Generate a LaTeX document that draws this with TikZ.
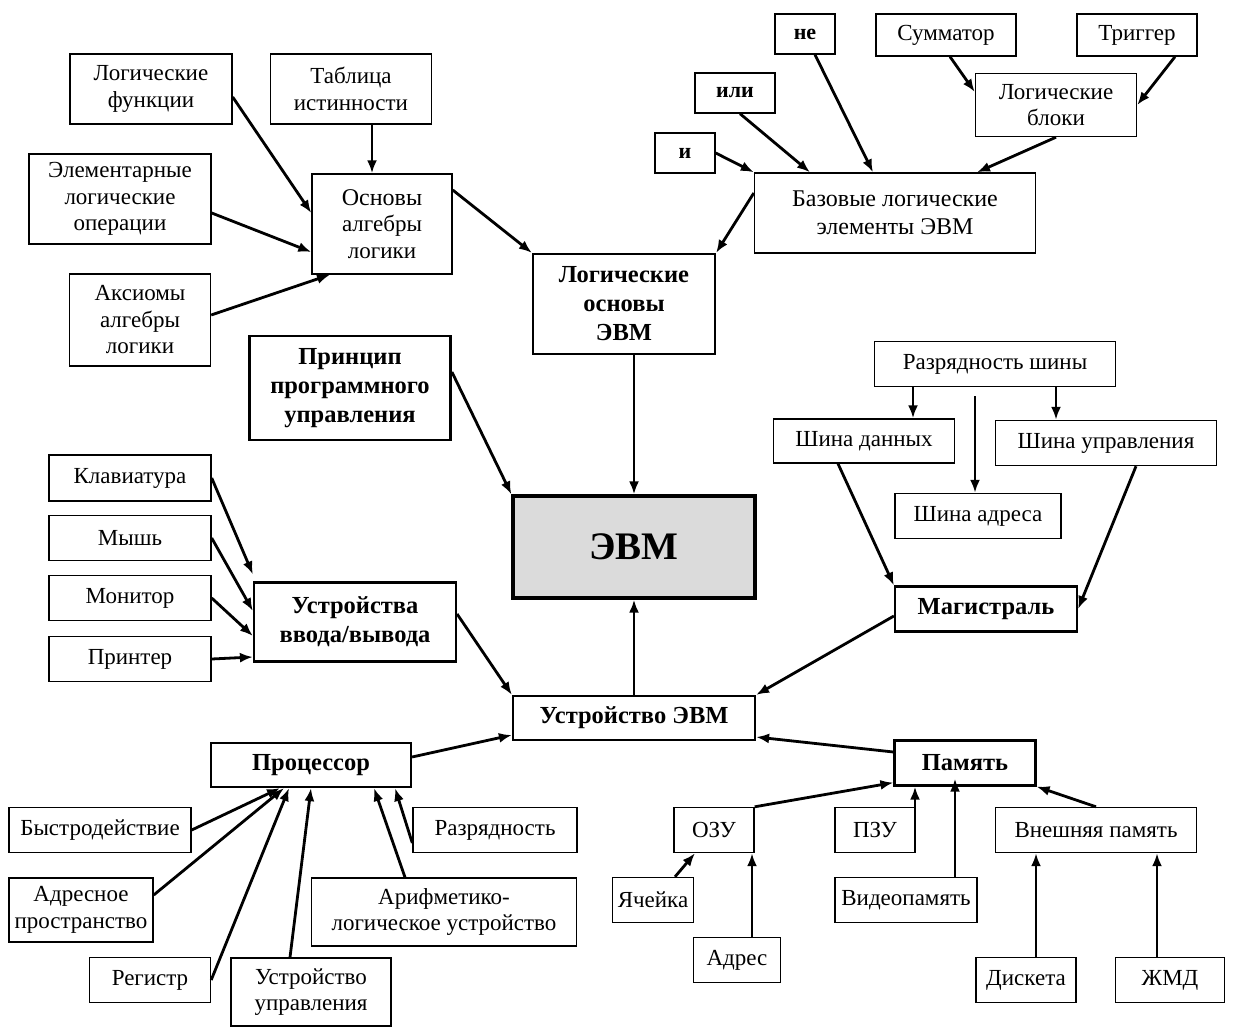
\documentclass[tikz,border=0pt]{standalone}
\usepackage{fontspec}
\setmainfont{Liberation Serif}
\usetikzlibrary{arrows.meta}
\tikzset{
  box/.style={draw, line width=1.4pt, align=center, inner sep=0pt,
    font=\fontsize{23}{26.5}\selectfont},
  bbox/.style={box, line width=2.2pt, font=\fontsize{24.5}{29}\selectfont\bfseries},
  arr/.style={-{Latex[length=13pt,width=10pt]}, line width=2.8pt},
}
\begin{document}
\begin{tikzpicture}[x=1pt,y=-1pt]
    \useasboundingbox (0,0) rectangle (1233,1027);
    % logic part
    \node[box, minimum width=162, minimum height=70] (lf) at (151,89) {Логические\\функции};
    \node[box, minimum width=161, minimum height=70] (tab) at (351,89) {Таблица\\истинности};
    \node[box, minimum width=182, minimum height=90] (elem) at (120,199) {Элементарные\\логические\\операции};
    \node[box, minimum width=140, minimum height=100] (osn) at (382,224) {\fontsize{24}{28}\selectfont Основы\\алгебры\\логики};
    \node[box, minimum width=141, minimum height=92] (aks) at (140,320) {Аксиомы\\алгебры\\логики};
    \node[bbox, line width=2.8pt, minimum width=201, minimum height=104] (pr) at (350,388) {Принцип\\программного\\управления};
    \node[bbox, minimum width=182, minimum height=100] (log) at (624,304) {Логические\\основы\\ЭВМ};
    \node[box, font=\fontsize{22}{26}\selectfont\bfseries, minimum width=60, minimum height=40] (i) at (685,153) {и};
    \node[box, font=\fontsize{22}{26}\selectfont\bfseries, minimum width=80, minimum height=40] (ili) at (735,93) {или};
    \node[box, font=\fontsize{22}{26}\selectfont\bfseries, minimum width=60, minimum height=40] (ne) at (805,34) {не};
    \node[box, minimum width=140, minimum height=42] (sum) at (946,35) {Сумматор};
    \node[box, minimum width=120, minimum height=42] (trig) at (1137,35) {Триггер};
    \node[box, minimum width=161, minimum height=63] (lb) at (1056,105) {Логические\\блоки};
    \node[box, font=\fontsize{24}{28}\selectfont, minimum width=281, minimum height=80] (baz) at (895,213) {Базовые логические\\элементы ЭВМ};
    % center
    \node[bbox, line width=3.2pt, fill=black!14, font=\fontsize{39}{44}\selectfont\bfseries, minimum width=242, minimum height=102] (evm) at (634,547) {ЭВМ};
    % bus
    \node[box, minimum width=241, minimum height=45] (rs) at (995,364) {Разрядность шины};
    \node[box, minimum width=181, minimum height=44] (sd) at (864,441) {Шина данных};
    \node[box, minimum width=221, minimum height=45] (su) at (1106,443) {Шина управления};
    \node[box, minimum width=166, minimum height=45] (sa) at (978,516) {Шина адреса};
    \node[bbox, minimum width=182, minimum height=45] (mag) at (986,609) {Магистраль};
    % input/output
    \node[box, minimum width=162, minimum height=46] (klav) at (130,478) {Клавиатура};
    \node[box, minimum width=162, minimum height=45] (mouse) at (130,538) {Мышь};
    \node[box, minimum width=162, minimum height=45] (mon) at (130,598) {Монитор};
    \node[box, minimum width=162, minimum height=45] (print) at (130,659) {Принтер};
    \node[bbox, minimum width=202, minimum height=79] (uvv) at (355,622) {Устройства\\ввода/вывода};
    \node[bbox, minimum width=242, minimum height=44] (ue) at (634,718) {Устройство ЭВМ};
    % processor
    \node[bbox, minimum width=200, minimum height=44] (proc) at (311,765) {Процессор};
    \node[box, minimum width=182, minimum height=45] (bys) at (100,830) {Быстродействие};
    \node[box, minimum width=164, minimum height=45] (raz) at (495,830) {Разрядность};
    \node[box, minimum width=144, minimum height=64] (adrp) at (81,910) {Адресное\\пространство};
    \node[box, minimum width=265, minimum height=68] (alu) at (444,912) {Арифметико-\\логическое устройство};
    \node[box, minimum width=121, minimum height=45] (reg) at (150,980) {Регистр};
    \node[box, minimum width=160, minimum height=68] (uu) at (311,992) {Устройство\\управления};
    % memory
    \node[bbox, minimum width=141, minimum height=45] (pam) at (965,763) {Память};
    \node[box, minimum width=80, minimum height=45] (ozu) at (714,830) {ОЗУ};
    \node[box, minimum width=80, minimum height=45] (pzu) at (875,830) {ПЗУ};
    \node[box, minimum width=201, minimum height=45] (vnp) at (1096,830) {Внешняя память};
    \node[box, minimum width=81, minimum height=45] (yach) at (653,900) {Ячейка};
    \node[box, minimum width=142, minimum height=45] (vid) at (906,900) {Видеопамять};
    \node[box, minimum width=87, minimum height=45] (adres) at (737,960) {Адрес};
    \node[box, minimum width=100, minimum height=45] (disk) at (1026,980) {Дискета};
    \node[box, minimum width=109, minimum height=45] (zhmd) at (1170,980) {ЖМД};
    \coordinate (rsfree) at ([xshift=-20pt,yshift=-9pt]rs.south);
    % arrows
    \draw[arr] ([yshift=-8pt]lf.east) -- ([yshift=11pt]osn.west);
    \draw[arr] ([xshift=21pt]tab.south) -- ([xshift=-10pt]osn.north);
    \draw[arr] ([yshift=-14pt]elem.east) -- ([yshift=-28pt]osn.west);
    \draw[arr] ([yshift=5pt]aks.east) -- ([xshift=-52pt]osn.south);
    \draw[arr] ([yshift=34pt]osn.east) -- (log.north west);
    \draw[arr] ([yshift=20pt]baz.west) -- (log.north east);
    \draw[arr] (i.east) -- (baz.north west);
    \draw[arr] ([xshift=5pt]ili.south) -- ([xshift=-85pt]baz.north);
    \draw[arr] ([xshift=10pt]ne.south) -- ([xshift=-22pt]baz.north);
    \draw[arr] ([xshift=4pt]sum.south) -- ([yshift=13pt]lb.west);
    \draw[arr] ([xshift=38pt]trig.south) -- (lb.east);
    \draw[arr] (lb.south) -- ([xshift=82pt]baz.north);
    \draw[arr] ([xshift=10pt]log.south) -- (evm.north);
    \draw[arr] ([yshift=16pt]pr.east) -- (evm.north west);
    \draw[arr] ([xshift=-82pt]rs.south) -- ([xshift=49pt]sd.north);
    \draw[arr] (rsfree) -- ([xshift=-3pt]sa.north);
    \draw[arr] ([xshift=61pt]rs.south) -- ([xshift=-50pt]su.north);
    \draw[arr] ([xshift=-26pt]sd.south) -- (mag.north west);
    \draw[arr] ([xshift=30pt]su.south) -- (mag.east);
    \draw[arr] ([yshift=-7pt]mag.west) -- (ue.north east);
    \draw[arr] (ue.north) -- (evm.south);
    \draw[arr] ([yshift=8pt]uvv.east) -- (ue.north west);
    \draw[arr] (klav.east) -- ([yshift=7pt]uvv.north west);
    \draw[arr] (mouse.east) -- ([yshift=11pt]uvv.west);
    \draw[arr] (mon.east) -- ([yshift=-14pt]uvv.west);
    \draw[arr] (print.east) -- ([yshift=-35pt]uvv.west);
    \draw[arr] ([yshift=8pt]proc.east) -- ([yshift=-17pt]ue.west);
    \draw[arr] ([yshift=11pt]pam.west) -- ([yshift=-19pt]ue.east);
    \draw[arr] (bys.east) -- ([xshift=-31pt]proc.south);
    \draw[arr] ([yshift=15pt]adrp.east) -- ([xshift=-27pt]proc.south);
    \draw[arr] (reg.east) -- ([xshift=-22pt]proc.south);
    \draw[arr] ([xshift=-21pt]uu.north) -- (proc.south);
    \draw[arr] ([xshift=-39pt]alu.north) -- ([xshift=63pt]proc.south);
    \draw[arr] ([yshift=-13pt]raz.west) -- ([xshift=84pt]proc.south);
    \draw[arr] (ozu.north east) -- ([yshift=4pt]pam.south west);
    \draw[arr] ([xshift=40pt]pzu.north) -- ([xshift=-50pt]pam.south);
    \draw[arr] ([xshift=49pt]vid.north) -- ([xshift=-10pt,yshift=8pt]pam.south);
    \draw[arr] (vnp.north) -- (pam.south east);
    \draw[arr] ([xshift=22pt]yach.north) -- ([xshift=-19pt]ozu.south);
    \draw[arr] ([xshift=15pt]adres.north) -- ([xshift=38pt]ozu.south);
    \draw[arr] ([xshift=10pt]disk.north) -- ([xshift=-60pt]vnp.south);
    \draw[arr] ([xshift=-13pt]zhmd.north) -- ([xshift=61pt]vnp.south);
\end{tikzpicture}
\end{document}
